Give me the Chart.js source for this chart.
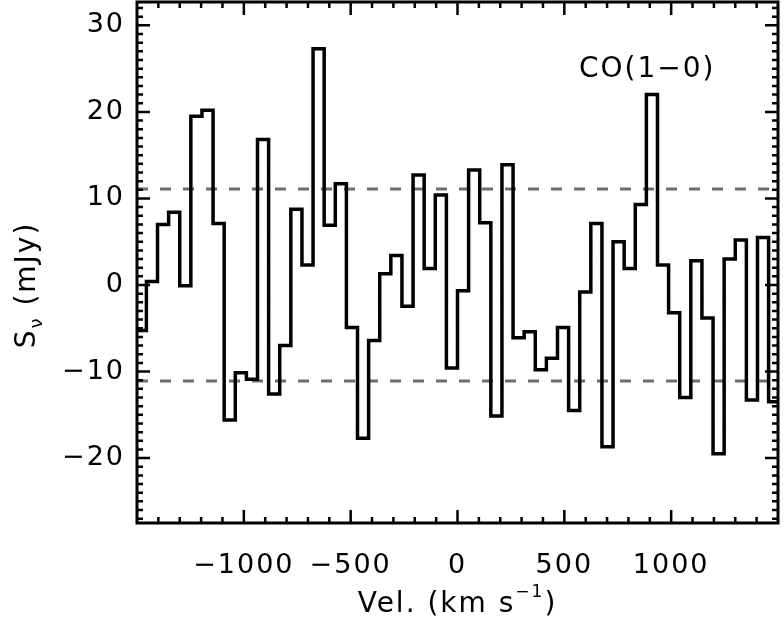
<!DOCTYPE html>
<html lang="en">
<head>
    <meta charset="UTF-8">
    <title>CO(1-0) spectrum</title>
    <script src="https://cdn.jsdelivr.net/npm/chart.js"></script>
    <style>
        html, body { margin: 0; padding: 0; background: #fff; }
        #wrap { width: 784px; height: 625px; }
    </style>
</head>
<body>
<div id="wrap"><canvas id="spec"></canvas></div>

<script>
    // channel centres (km/s) and flux density per channel (mJy)
    const velocities = [
        -1482, -1430, -1378, -1326, -1274, -1222, -1170, -1118, -1066, -1014,
        -962, -910, -858, -806, -754, -702, -650, -598, -546, -494,
        -442, -390, -338, -286, -234, -182, -130, -78, -26, 26,
        78, 130, 182, 234, 286, 338, 390, 442, 494, 546,
        598, 650, 702, 754, 806, 858, 910, 962, 1014, 1066,
        1118, 1170, 1222, 1274, 1326, 1378, 1430, 1482
    ];
    const flux = [
        -5.25, 0.4, 7.0, 8.4, -0.1, 19.5, 20.2, 7.1, -15.6, -10.15,
        -10.9, 16.8, -12.6, -7.0, 8.75, 2.3, 27.3, 6.9, 11.7, -4.9,
        -17.7, -6.4, 1.3, 3.4, -2.45, 12.7, 1.9, 10.4, -9.6, -0.66,
        13.3, 7.2, -15.15, 13.9, -6.1, -5.4, -9.8, -8.45, -4.9, -14.5,
        -0.8, 7.1, -18.7, 5.0, 1.9, 9.3, 22.0, 2.3, -3.2, -13.0,
        2.8, -3.8, -19.5, 3.0, 5.2, -13.3, 5.5, -13.5
    ];
    const noiseLevels = [11.1, -11.1];      // dashed lines
    const xRange = [-1500, 1500];
    const yRange = [-27.5, 32.7];
    const xTickValues = [-1000, -500, 0, 500, 1000];
    const yTickValues = [-20, -10, 0, 10, 20, 30];
    const lineLabel = { text: 'CO(1\u22120)', v: 888, s: 24.9 };

    // histogram: each channel from its left edge, edges halfway between centres
    const stepPoints = velocities.map((v, i) => ({
        x: i === 0 ? xRange[0] : (velocities[i - 1] + v) / 2,
        y: flux[i]
    }));
    stepPoints.push({ x: xRange[1], y: flux[flux.length - 1] });

    const noiseSets = noiseLevels.map(level => ({
        data: [{ x: xRange[0], y: level }, { x: xRange[1], y: level }],
        borderColor: '#6d6d6d',
        borderWidth: 3,
        borderDash: [11, 12],
        pointRadius: 0,
        fill: false
    }));

    const FONT = 'DejaVu Sans';
    const fmt = v => (v < 0 ? '\u2212' + Math.abs(v) : String(v));

    // frame, inward ticks on all four sides, axis titles and line label
    const idlFrame = {
        id: 'idlFrame',
        beforeDraw(chart) { chart.ctx.letterSpacing = '2px'; },
        afterDraw(chart) {
            const ctx = chart.ctx;
            const a = chart.chartArea;
            const xs = chart.scales.x, ys = chart.scales.y;
            ctx.save();
            ctx.strokeStyle = '#000';
            ctx.lineWidth = 2.5;
            ctx.beginPath();
            for (let v = -1400; v <= 1400; v += 100) {
                const len = xTickValues.includes(v) ? 13 : 6;
                const px = xs.getPixelForValue(v);
                ctx.moveTo(px, a.bottom); ctx.lineTo(px, a.bottom - len);
                ctx.moveTo(px, a.top); ctx.lineTo(px, a.top + len);
            }
            for (let v = -27; v <= 32; v += 1) {
                const len = yTickValues.includes(v) ? 13 : 6;
                const py = ys.getPixelForValue(v);
                ctx.moveTo(a.left, py); ctx.lineTo(a.left + len, py);
                ctx.moveTo(a.right, py); ctx.lineTo(a.right - len, py);
            }
            ctx.stroke();
            ctx.lineWidth = 3;
            ctx.strokeRect(a.left, a.top, a.right - a.left, a.bottom - a.top);

            ctx.fillStyle = '#000';
            ctx.letterSpacing = '2px';
            ctx.textBaseline = 'middle';

            // line label
            ctx.font = '28px "' + FONT + '"';
            ctx.textAlign = 'center';
            ctx.fillText(lineLabel.text, xs.getPixelForValue(lineLabel.v), ys.getPixelForValue(lineLabel.s));

            // x title with superscript
            const xt1 = 'Vel. (km s', xt2 = '\u22121', xt3 = ')';
            ctx.font = '28px "' + FONT + '"';
            const w1 = ctx.measureText(xt1).width, w3 = ctx.measureText(xt3).width;
            ctx.font = '17px "' + FONT + '"';
            const w2 = ctx.measureText(xt2).width;
            let x0 = (a.left + a.right) / 2 - (w1 + w2 + w3) / 2;
            const yT = 605;
            ctx.textAlign = 'left';
            ctx.font = '28px "' + FONT + '"';
            ctx.fillText(xt1, x0, yT);
            ctx.font = '17px "' + FONT + '"';
            ctx.fillText(xt2, x0 + w1, yT - 12);
            ctx.font = '28px "' + FONT + '"';
            ctx.fillText(xt3, x0 + w1 + w2, yT);

            // y title with subscript nu
            ctx.translate(28, ys.getPixelForValue(0));
            ctx.rotate(-Math.PI / 2);
            const yt1 = 'S', yt2 = '\u03bd', yt3 = ' (mJy)';
            ctx.font = '28px "' + FONT + '"';
            const v1 = ctx.measureText(yt1).width, v3 = ctx.measureText(yt3).width;
            ctx.font = '18px "' + FONT + '"';
            const v2 = ctx.measureText(yt2).width;
            let y0 = -(v1 + v2 + v3) / 2;
            ctx.font = '28px "' + FONT + '"';
            ctx.fillText(yt1, y0, 0);
            ctx.font = '18px "' + FONT + '"';
            ctx.fillText(yt2, y0 + v1, 9);
            ctx.font = '28px "' + FONT + '"';
            ctx.fillText(yt3, y0 + v1 + v2, 0);
            ctx.restore();
        }
    };

    new Chart(document.getElementById('spec'), {
        type: 'line',
        data: {
            datasets: [{
                data: stepPoints,
                stepped: true,
                borderColor: '#000',
                borderWidth: 3.5,
                pointRadius: 0,
                fill: false
            }, ...noiseSets]
        },
        options: {
            responsive: true,
            maintainAspectRatio: false,
            animation: false,
            layout: { padding: { top: 2, right: 6, left: 0, bottom: 0 } },
            plugins: { legend: { display: false }, tooltip: { enabled: false } },
            scales: {
                x: {
                    type: 'linear',
                    min: xRange[0], max: xRange[1],
                    afterBuildTicks: s => { s.ticks = xTickValues.map(v => ({ value: v })); },
                    afterFit: s => { s.height = 102; s.paddingLeft = 0; s.paddingRight = 0; },
                    grid: { display: false, drawTicks: false },
                    border: { display: false },
                    ticks: {
                        maxRotation: 0,
                        autoSkip: false,
                        padding: 27,
                        color: '#000',
                        font: { family: FONT, size: 27 },
                        callback: v => fmt(v)
                    }
                },
                y: {
                    type: 'linear',
                    min: yRange[0], max: yRange[1],
                    afterBuildTicks: s => { s.ticks = yTickValues.map(v => ({ value: v })); },
                    afterFit: s => { s.width = 137; s.paddingTop = 0; s.paddingBottom = 0; },
                    grid: { display: false, drawTicks: false },
                    border: { display: false },
                    ticks: {
                        padding: 12,
                        color: '#000',
                        font: { family: FONT, size: 27 },
                        callback: v => fmt(v)
                    }
                }
            }
        },
        plugins: [idlFrame]
    });
</script>
</body>
</html>
